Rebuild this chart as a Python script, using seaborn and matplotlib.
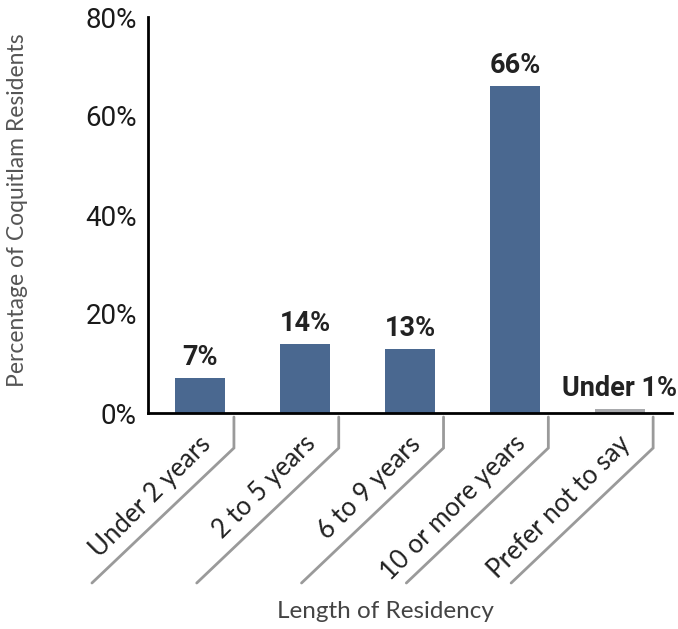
import matplotlib
matplotlib.use("Agg")
import matplotlib.pyplot as plt
from matplotlib.lines import Line2D
import seaborn as sns
import pandas as pd

categories = ["Under 2 years", "2 to 5 years", "6 to 9 years", "10 or more years", "Prefer not to say"]
values = [7, 14, 13, 66, 0.8]
value_labels = ["7%", "14%", "13%", "66%", "Under 1%"]
y_ticks = [0, 20, 40, 60, 80]
y_tick_labels = ["0%", "20%", "40%", "60%", "80%"]

BLUE = "#4a6890"
GREY = "#a8a9ac"
bar_colors = [BLUE, BLUE, BLUE, BLUE, GREY]

sns.set_theme(style="white")
numfont = ["Roboto", "DejaVu Sans"]
plain = ["Lato", "DejaVu Sans"]
plt.rcParams["font.family"] = plain

df = pd.DataFrame({"category": categories, "value": values})

fig = plt.figure(figsize=(6.78, 6.29), dpi=100)
ax = fig.add_axes([148 / 678, 1 - 413 / 629, (672 - 148) / 678, (413 - 17) / 629])

sns.barplot(data=df, x="category", y="value", hue="category",
            palette=bar_colors, legend=False, width=0.476, ax=ax,
            saturation=1, linewidth=0)

ax.set_xlim(-0.5, 4.5)
ax.set_ylim(0, 80)
ax.set_yticks(y_ticks)
ax.set_yticklabels(y_tick_labels, family=numfont, fontsize=20, color="#1a1a1a")
ax.tick_params(axis="y", direction="in", length=9, width=2, color="black", pad=8)
ax.set_xticks([])
ax.set_xlabel("")
ax.set_ylabel("")

for side in ("top", "right"):
    ax.spines[side].set_visible(False)
for side in ("left", "bottom"):
    ax.spines[side].set_visible(True)
    ax.spines[side].set_color("black")
    ax.spines[side].set_linewidth(2)

# value labels above bars
for i, (v, lab) in enumerate(zip(values, value_labels)):
    ax.annotate(lab, (i, v), xytext=(0, 5), textcoords="offset points",
                ha="center", va="bottom", family=numfont, fontweight="bold",
                fontsize=19.5, color="#222222")

# category labels and their grey leader lines
xaxis_tr = ax.get_xaxis_transform()
for i, cat in enumerate(categories):
    bx, by = xaxis_tr.transform((i + 0.32, 0))
    pts = [(bx, by - 4), (bx, by - 35), (bx - 142, by - 170)]
    fig.add_artist(Line2D([p[0] for p in pts], [p[1] for p in pts],
                          transform=None, color="#9a9a9a", lw=2,
                          solid_joinstyle="miter"))
    tx, ty = xaxis_tr.transform((i, 0))
    fig.text((tx + 7) / 678, (ty - 27) / 629, cat, rotation=45,
             rotation_mode="anchor", ha="right", va="center",
             fontsize=18.5, color="#222222")

fig.text(385 / 678, 1 - 612 / 629, "Length of Residency", ha="center",
         va="center", fontsize=17.5, color="#444444")
fig.text(18 / 678, 1 - 210 / 629, "Percentage of Coquitlam Residents",
         ha="center", va="center", rotation=90, fontsize=16.5, color="#555555")

fig.savefig("out.png", dpi=100)
